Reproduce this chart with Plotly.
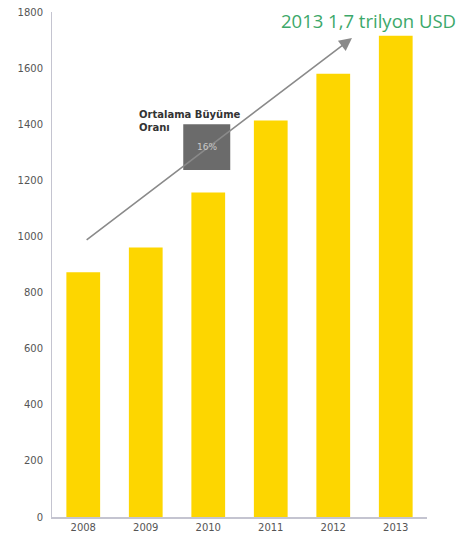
import plotly.graph_objects as go

years = ["2008", "2009", "2010", "2011", "2012", "2013"]
values = [872, 961, 1157, 1413, 1580, 1715]
y_ticks = [0, 200, 400, 600, 800, 1000, 1200, 1400, 1600, 1800]
title_text = "2013 1,7 trilyon USD"
growth_label = "Ortalama Büyüme<br>Oranı"
growth_value = "16%"

fig = go.Figure()
fig.add_trace(go.Bar(x=years, y=values, marker=dict(color="#FDD600", line=dict(width=0)),
                     width=0.54, hoverinfo="skip"))

# page body has an 8px default margin; figure sized to fit inside the 470x542 window
fig.update_layout(
    width=454, height=526,
    margin=dict(l=44, r=35, t=4, b=17, autoexpand=False),
    paper_bgcolor="white", plot_bgcolor="white",
    showlegend=False,
    font=dict(family="DejaVu Sans", size=10, color="#555555"),
    xaxis=dict(type="category", range=[-0.5, 5.5], showline=True, linecolor="#c4c4d0",
               linewidth=1.5, showgrid=False, ticks="", automargin=False,
               tickfont=dict(size=10, color="#555")),
    yaxis=dict(range=[0, 1800], tickvals=y_ticks, showline=True, linecolor="#c4c4d0",
               linewidth=1, showgrid=False, zeroline=False, ticks="", automargin=False,
               ticklabeloverflow="allow",
               tickfont=dict(size=10, color="#555"), ticklabelstandoff=6),
)

# arrow
fig.add_annotation(x=4.3, y=1707, ax=0.03, ay=984, xref="x", yref="y", axref="x", ayref="y",
                   text="", showarrow=True, arrowhead=2, arrowsize=1.6, arrowwidth=1.6,
                   arrowcolor="#8a8a8a")

# box
fig.add_shape(type="rect", xref="x", yref="y", x0=1.6, x1=2.352, y0=1237, y1=1400,
              fillcolor="#6b6b6b", line=dict(width=0), layer="above")
fig.add_annotation(x=1.976, y=1318, xref="x", yref="y", text=growth_value, showarrow=False,
                   font=dict(size=9, color="#c8c8c8"))
fig.add_annotation(x=0.864, y=1410, xref="x", yref="y", text="<b>" + growth_label + "</b>",
                   showarrow=False, xanchor="left", yanchor="middle", align="left",
                   font=dict(family="DejaVu Sans", size=10, color="#333333"))

# title
fig.add_annotation(x=1.083, y=0.984, xref="paper", yref="paper", text=title_text,
                   showarrow=False, xanchor="right", yanchor="middle",
                   font=dict(family="Open Sans", size=18.5, color="#3ca86a"))

fig.write_html("out.html")
